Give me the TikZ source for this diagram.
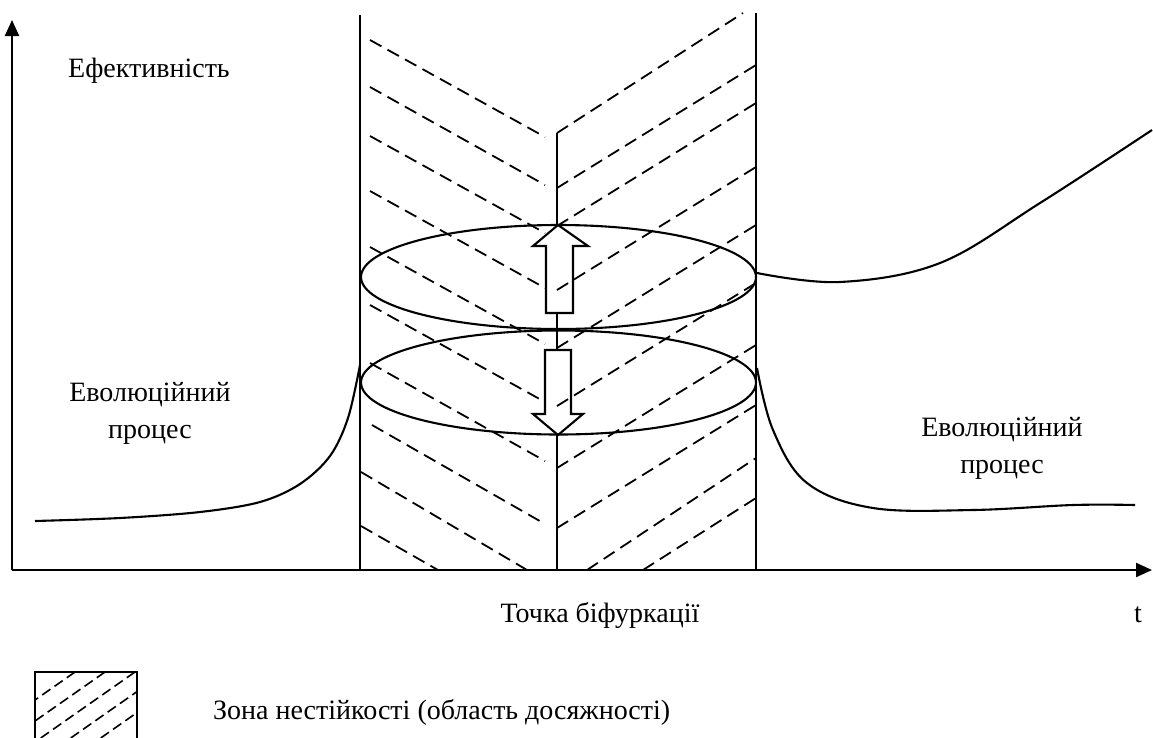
\documentclass[tikz,border=0pt]{standalone}
\usepackage{fontspec}
\setmainfont{Liberation Serif}
\usetikzlibrary{arrows.meta,shapes.geometric}
\begin{document}
\begin{tikzpicture}[x=1pt,y=-1pt,
  solidline/.style={line width=2.1pt},
  axis/.style={line width=2.2pt,-{Triangle[length=16pt,width=14pt]}},
  hatch/.style={line width=1.8pt, dash pattern=on 13pt off 7pt},
  lhatch/.style={line width=1.6pt, dash pattern=on 10pt off 5pt},
  zoneellipse/.style={ellipse, draw, line width=2.1pt, minimum width=395pt, minimum height=104pt, inner sep=0pt},
  lbl/.style={font=\fontsize{28}{37}\selectfont, inner sep=0pt},
  blockarrow/.style={draw, line width=2.1pt, line join=miter}
]
\useasboundingbox (0,0) rectangle (1153,737);

% axes
\coordinate (O) at (12,570);
\coordinate (ytop) at (12,20);
\coordinate (xend) at (1152,570);
\draw[axis] (O) -- (ytop);
\draw[axis] (O) -- (xend);

% zone borders
\draw[solidline] (360,15) -- (360,570);
\draw[solidline] (756,13) -- (756,570);

% hatch, left group
\draw[hatch] (370,40) -- (545,137);
\draw[hatch] (370,87) -- (545,185);
\draw[hatch] (370,136) -- (545,233);
\draw[hatch] (370,191) -- (545,288);
\draw[hatch] (370,247) -- (545,344);
\draw[hatch] (370,305) -- (545,402);
\draw[hatch] (370,363) -- (545,461);
\draw[hatch] (372,425) -- (545,524);
\draw[hatch] (361,472) -- (527,570);
\draw[hatch] (361,526) -- (438,570);

% hatch, right group
\draw[hatch] (557,133) -- (743,13);
\draw[hatch] (557,188) -- (756,65);
\draw[hatch] (557,226) -- (756,103);
\draw[hatch] (557,290) -- (756,167);
\draw[hatch] (557,348) -- (756,225);
\draw[hatch] (557,406) -- (756,283);
\draw[hatch] (557,468) -- (756,345);
\draw[hatch] (557,528) -- (756,405);
\draw[hatch] (587,570) -- (756,458);
\draw[hatch] (643,570) -- (756,498);

% bifurcation line
\draw[solidline] (557,133) -- (557,225);
\draw[solidline] (557,313) -- (557,350);
\draw[solidline] (557,435) -- (557,570);

% ellipses
\node[zoneellipse] (e1) at (558.5,277) {};
\node[zoneellipse] (e2) at (558.5,382.5) {};

% block arrows
\draw[blockarrow] (558,225) -- (588,246) -- (573,246) -- (573,313) -- (546,313) -- (546,246) -- (533,246) -- cycle;
\draw[blockarrow] (545,350) -- (571,350) -- (571,414) -- (583,414) -- (558,435) -- (533,414) -- (545,414) -- cycle;

% curves
\draw[solidline] plot[smooth, tension=0.55] coordinates {(35,521) (120,518) (200,512) (260,502) (300,484) (330,456) (348,418) (360,365)};
\draw[solidline] plot[smooth, tension=0.6] coordinates {(757,368) (773,430) (807,483) (873,508) (973,510) (1073,505) (1135,505)};
\draw[solidline] plot[smooth, tension=0.6] coordinates {(757,273) (840,282) (940,263) (1040,203) (1152,130)};

% labels
\node[lbl, anchor=base west] (eff) at (68,77) {Ефективність};
\node[lbl, align=center, anchor=base] (evl) at (150,438) {Еволюційний\\процес};
\node[lbl, align=center, anchor=base] (evr) at (1002,473) {Еволюційний\\процес};
\node[lbl, anchor=base] (bif) at (600,622) {Точка біфуркації};
\node[lbl, anchor=base] (tlbl) at (1138,622) {t};
\node[lbl, anchor=base west] (leg) at (213,719) {Зона нестійкості (область досяжності)};

% legend box
\draw[solidline] (35,745) -- (35,672) -- (137,672) -- (137,745);
\begin{scope}
  \clip (35,672) rectangle (137,737);
  \foreach \xt in {75,105,135,165,195}
    \draw[lhatch] (\xt,672) -- ++(-150,105);
\end{scope}
\end{tikzpicture}
\end{document}
